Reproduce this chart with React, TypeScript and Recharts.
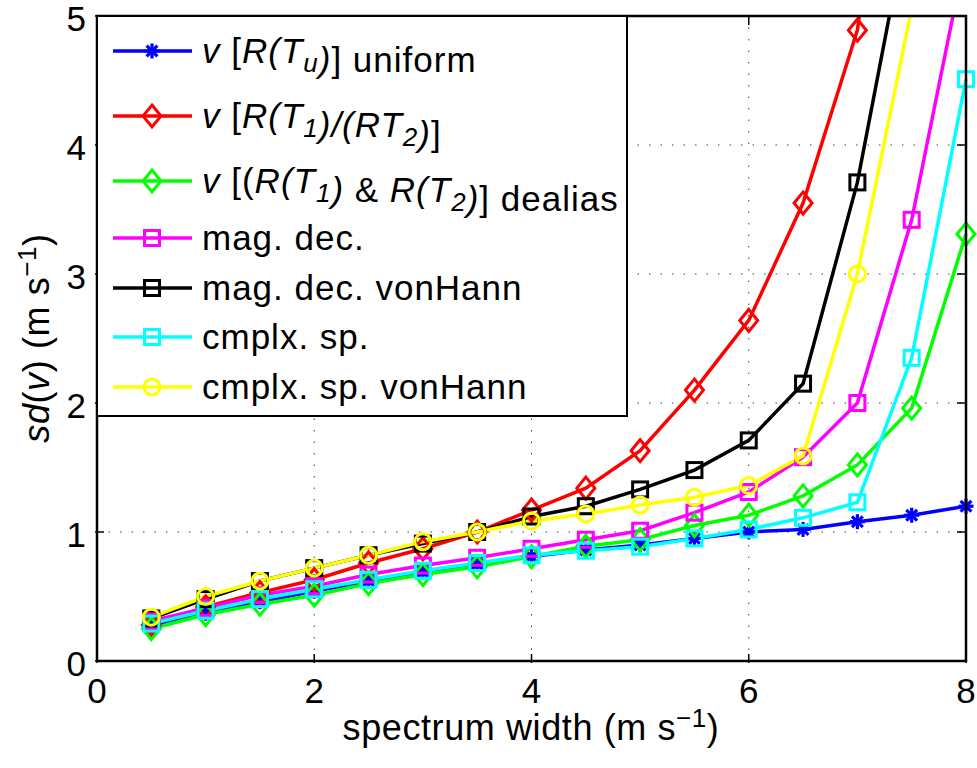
import React from "react";
import {
  LineChart,
  Line,
  XAxis,
  YAxis,
  CartesianGrid,
  Legend,
  Label,
} from "recharts";

const FONT = '"Liberation Sans", Arial, Helvetica, sans-serif';

// spectrum width (m s^-1)
const widths = [0.5, 1, 1.5, 2, 2.5, 3, 3.5, 4, 4.5, 5, 5.5, 6, 6.5, 7, 7.5, 8];

// sd(v) for each estimator (values above 5 leave the plot, as in the figure)
const uniform = [0.27, 0.37, 0.46, 0.54, 0.62, 0.69, 0.75, 0.81, 0.86, 0.9, 0.95, 1.0, 1.02, 1.08, 1.13, 1.2];
const ratio = [0.28, 0.42, 0.53, 0.63, 0.76, 0.87, 1.0, 1.17, 1.34, 1.63, 2.1, 2.64, 3.55, 4.89, 8.0, 12.0];
const dealias = [0.25, 0.36, 0.44, 0.51, 0.6, 0.67, 0.73, 0.81, 0.89, 0.94, 1.05, 1.13, 1.28, 1.52, 1.96, 3.31];
const magDec = [0.31, 0.41, 0.51, 0.58, 0.67, 0.74, 0.8, 0.87, 0.94, 1.01, 1.15, 1.31, 1.58, 2.0, 3.42, 5.5];
const magDecHann = [0.33, 0.48, 0.62, 0.72, 0.82, 0.91, 1.0, 1.12, 1.2, 1.33, 1.48, 1.71, 2.15, 3.71, 5.9, 8.5];
const cplx = [0.29, 0.39, 0.48, 0.556, 0.63, 0.7, 0.76, 0.82, 0.855, 0.886, 0.95, 1.02, 1.11, 1.23, 2.35, 4.51];
const cplxHann = [0.34, 0.5, 0.62, 0.72, 0.82, 0.925, 1.0, 1.085, 1.14, 1.21, 1.27, 1.36, 1.59, 3.0, 5.06, 7.5];

const xTicks = [0, 2, 4, 6, 8];
const yTicks = [0, 1, 2, 3, 4, 5];

const data = widths.map((x, i) => ({
  x,
  uniform: uniform[i],
  ratio: ratio[i],
  dealias: dealias[i],
  magDec: magDec[i],
  magDecHann: magDecHann[i],
  cplx: cplx[i],
  cplxHann: cplxHann[i],
}));

type Shape = "star" | "diamond" | "square" | "circle";

const SERIES: { key: string; color: string; shape: Shape }[] = [
  { key: "uniform", color: "#0000ff", shape: "star" },
  { key: "ratio", color: "#ff0000", shape: "diamond" },
  { key: "dealias", color: "#00ff00", shape: "diamond" },
  { key: "magDec", color: "#ff00ff", shape: "square" },
  { key: "magDecHann", color: "#000000", shape: "square" },
  { key: "cplx", color: "#00ffff", shape: "square" },
  { key: "cplxHann", color: "#ffff00", shape: "circle" },
];

// plot frame geometry (chart margins + axis sizes)
const PLOT = { left: 97, top: 16, right: 966, bottom: 661 };

function Marker({ cx, cy, shape, color }: { cx: number; cy: number; shape: Shape; color: string }) {
  if (cx == null || cy == null || isNaN(cx) || isNaN(cy)) return null;
  const common = { stroke: color, strokeWidth: 3, fill: "none" };
  if (shape === "star") {
    const r = 7.5;
    const d = r * 0.72;
    return (
      <g {...common} strokeWidth={3.2}>
        <line x1={cx - r} y1={cy} x2={cx + r} y2={cy} />
        <line x1={cx} y1={cy - r} x2={cx} y2={cy + r} />
        <line x1={cx - d} y1={cy - d} x2={cx + d} y2={cy + d} />
        <line x1={cx - d} y1={cy + d} x2={cx + d} y2={cy - d} />
      </g>
    );
  }
  if (shape === "diamond") {
    const w = 9;
    const h = 11;
    return (
      <polygon
        {...common}
        points={`${cx},${cy - h} ${cx + w},${cy} ${cx},${cy + h} ${cx - w},${cy}`}
      />
    );
  }
  if (shape === "square") {
    const s = 7.5;
    return <rect {...common} x={cx - s} y={cy - s} width={2 * s} height={2 * s} />;
  }
  return <circle {...common} cx={cx} cy={cy} r={8} />;
}

const sub = (t: string) => (
  <>
    <tspan fontStyle="italic" fontSize={26} dy={9}>{t}</tspan>
    <tspan dy={-9}></tspan>
  </>
);

const LABELS: React.ReactNode[] = [
  <>
    <tspan fontStyle="italic">v</tspan>
    <tspan>{" ["}</tspan>
    <tspan fontStyle="italic">R(T</tspan>
    {sub("u")}
    <tspan fontStyle="italic">)</tspan>
    <tspan>{"] uniform"}</tspan>
  </>,
  <>
    <tspan fontStyle="italic">v</tspan>
    <tspan>{" ["}</tspan>
    <tspan fontStyle="italic">R(T</tspan>
    {sub("1")}
    <tspan fontStyle="italic">)/(RT</tspan>
    {sub("2")}
    <tspan fontStyle="italic">)</tspan>
    <tspan>{"]"}</tspan>
  </>,
  <>
    <tspan fontStyle="italic">v</tspan>
    <tspan>{" [("}</tspan>
    <tspan fontStyle="italic">R(T</tspan>
    {sub("1")}
    <tspan fontStyle="italic">)</tspan>
    <tspan>{" & "}</tspan>
    <tspan fontStyle="italic">R(T</tspan>
    {sub("2")}
    <tspan fontStyle="italic">)</tspan>
    <tspan>{"] dealias"}</tspan>
  </>,
  "mag. dec.",
  "mag. dec. vonHann",
  "cmplx. sp.",
  "cmplx. sp. vonHann",
];

const ROW_Y = [36, 101, 166, 223, 273, 322, 372];

function LegendBox() {
  return (
    <svg width={532} height={402} style={{ display: "block" }}>
      <rect x={1} y={1} width={530} height={400} fill="#fff" stroke="#000" strokeWidth={2} />
      {SERIES.map((s, i) => (
        <g key={s.key}>
          <line x1={17} x2={96} y1={ROW_Y[i]} y2={ROW_Y[i]} stroke={s.color} strokeWidth={3.5} />
          <Marker cx={56} cy={ROW_Y[i]} shape={s.shape} color={s.color} />
          <text
            x={106}
            y={ROW_Y[i] + 12}
            fontSize={35}
            letterSpacing={1}
            fontFamily={FONT}
            fill="#000"
          >
            {LABELS[i]}
          </text>
        </g>
      ))}
    </svg>
  );
}

// top/right box edges with inward ticks, laid over the chart like MATLAB's axes box
function FrameOverlay() {
  const w = PLOT.right - PLOT.left;
  const h = PLOT.bottom - PLOT.top;
  return (
    <svg
      width={977}
      height={768}
      style={{ position: "absolute", left: 0, top: 0, pointerEvents: "none", zIndex: 5 }}
    >
      <rect
        x={PLOT.left}
        y={PLOT.top}
        width={w}
        height={h}
        fill="none"
        stroke="#000"
        strokeWidth={2.5}
      />
      {xTicks.map((t) => {
        const x = PLOT.left + (t / 8) * w;
        return <line key={`tx${t}`} x1={x} x2={x} y1={PLOT.top} y2={PLOT.top + 9} stroke="#000" strokeWidth={1.5} />;
      })}
      {yTicks.map((t) => {
        const y = PLOT.bottom - (t / 5) * h;
        return <line key={`ty${t}`} x1={PLOT.right} x2={PLOT.right - 9} y1={y} y2={y} stroke="#000" strokeWidth={1.5} />;
      })}
    </svg>
  );
}

const BottomTick = (p: any) => (
  <g>
    <line x1={p.x} x2={p.x} y1={p.y} y2={p.y - 9} stroke="#000" strokeWidth={1.5} />
    <text x={p.x} y={p.y + 40} textAnchor="middle" fontSize={35} fontFamily={FONT} fill="#000">
      {p.payload.value}
    </text>
  </g>
);

const LeftTick = (p: any) => (
  <g>
    <line x1={p.x} x2={p.x + 9} y1={p.y} y2={p.y} stroke="#000" strokeWidth={1.5} />
    <text x={p.x - 9} y={p.y + 15} textAnchor="end" fontSize={35} fontFamily={FONT} fill="#000">
      {p.payload.value}
    </text>
  </g>
);

export default function App() {
  return (
    <div style={{ position: "absolute", left: 0, top: 0, width: 977, height: 768, background: "#fff" }}>
      <div style={{ position: "absolute", left: 0, top: 0 }}>
        <LineChart
          width={977}
          height={768}
          data={data}
          margin={{ top: 16, right: 11, bottom: 47, left: 37 }}
        >
          <CartesianGrid stroke="#444" strokeDasharray="1.5 10" strokeWidth={1} />
          <XAxis
            dataKey="x"
            type="number"
            domain={[0, 8]}
            ticks={xTicks}
            height={60}
            tickSize={0}
            tickLine={false}
            axisLine={{ stroke: "#000", strokeWidth: 2 }}
            tick={(p: any) => <BottomTick {...p} />}
          >
            <Label
              content={() => (
                <text
                  x={531}
                  y={740}
                  textAnchor="middle"
                  fontSize={36}
                  letterSpacing={0.6}
                  fontFamily={FONT}
                  fill="#000"
                >
                  spectrum width (m s
                  <tspan dy={-13} fontSize={26}>−1</tspan>
                  <tspan dy={13}>)</tspan>
                </text>
              )}
            />
          </XAxis>
          <YAxis
            type="number"
            domain={[0, 5]}
            ticks={yTicks}
            allowDataOverflow
            width={60}
            tickSize={0}
            tickLine={false}
            axisLine={{ stroke: "#000", strokeWidth: 2 }}
            tick={(p: any) => <LeftTick {...p} />}
          >
            <Label
              content={() => (
                <text
                  transform="translate(49,338) rotate(-90)"
                  textAnchor="middle"
                  fontSize={36}
                  letterSpacing={0.6}
                  fontFamily={FONT}
                  fill="#000"
                >
                  <tspan fontStyle="italic">sd</tspan>(<tspan fontStyle="italic">v</tspan>) (m s
                  <tspan dy={-13} fontSize={26}>−1</tspan>
                  <tspan dy={13}>)</tspan>
                </text>
              )}
            />
          </YAxis>
          {SERIES.map((s) => (
            <Line
              key={s.key}
              dataKey={s.key}
              type="linear"
              stroke={s.color}
              strokeWidth={3.5}
              isAnimationActive={false}
              activeDot={false}
              dot={(p: any) => (
                <Marker key={`${s.key}-${p.index}`} cx={p.cx} cy={p.cy} shape={s.shape} color={s.color} />
              )}
            />
          ))}
        </LineChart>
      </div>
      <FrameOverlay />
      <div style={{ position: "absolute", left: 96, top: 15, zIndex: 6 }}>
        <LegendBox />
      </div>
    </div>
  );
}
